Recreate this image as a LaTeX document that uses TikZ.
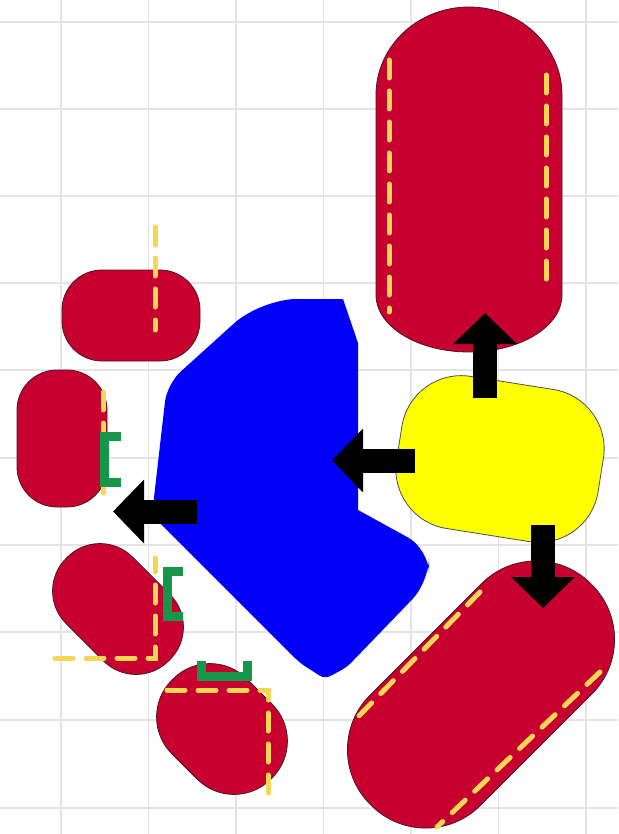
\documentclass[tikz,border=0pt]{standalone}
\usepackage{tikz}
\usetikzlibrary{arrows.meta}
\definecolor{partred}{RGB}{200,0,48}
\definecolor{partedge}{RGB}{70,25,35}
\definecolor{hubyellow}{RGB}{255,255,0}
\definecolor{guideyellow}{RGB}{245,215,85}
\definecolor{clipgreen}{RGB}{22,150,72}
\definecolor{gridgray}{RGB}{228,228,228}
\definecolor{bodyblue}{RGB}{0,0,250}

\begin{document}
\begin{tikzpicture}[x=1pt,y=-1pt,
  part/.style={draw=partedge,fill=partred,line width=0.8pt,inner sep=0pt},
  guide/.style={draw=guideyellow,line width=5pt,line cap=round,dash pattern=on 18pt off 13pt},
  clipmark/.style={draw=clipgreen,line width=9pt},
  push/.style={line width=24pt,-{Triangle[width=62pt,length=31pt]}}]
  \fill[white] (0,0) rectangle (618,834);
  \useasboundingbox (0,0) rectangle (618,834);
  \foreach \gx in {61,148.5,236,323.5,411,498.5,586} \draw[gridgray,line width=1.5pt] (\gx,0) -- (\gx,834);
  \foreach \gy in {22,109,196,283,370,458,545,632,720,808} \draw[gridgray,line width=1.5pt] (0,\gy) -- (618,\gy);

  \fill[bodyblue] (343,299) -- (358,343) -- (358,510)
    [rounded corners=24pt] -- (429,549) -- (429,582) [rounded corners=6pt] -- (347,667) -- (325,679) -- (300,663)
    -- (152,515) [rounded corners=18pt] -- (167,384) [rounded corners=36pt] -- (261,299) [sharp corners] -- cycle;

  \filldraw[part] (376,295) -- (376,95) arc[start angle=180,end angle=360,x radius=93,y radius=88]
    -- (562,295) arc[start angle=0,end angle=180,x radius=93,y radius=57] -- cycle;
  \node[part,minimum width=138pt,minimum height=91pt,rounded corners=40pt] (tl) at (131,315.5) {};
  \node[part,minimum width=90pt,minimum height=137pt,rounded corners=40pt] (ml) at (62,438.5) {};
  \node[part,minimum width=145pt,minimum height=94pt,rounded corners=46pt,rotate=-45] (ca) at (118,609) {};
  \node[part,minimum width=140pt,minimum height=106pt,rounded corners=52pt,rotate=-45] (cb) at (222,729) {};
  \node[part,minimum width=312pt,minimum height=156pt,rounded corners=77pt,rotate=45] (big) at (481,694.5) {};
  \node[draw=black!70,fill=hubyellow,line width=0.8pt,inner sep=0pt,minimum width=204pt,minimum height=154pt,rounded corners=60pt,rotate=-9] (hub) at (500,459) {};

  \draw[guide] (389,60) -- (389,312);
  \draw[guide] (546,75) -- (546,282);
  \draw[guide] (155,227) -- (155,330);
  \draw[guide] (103,392) -- (103,493);
  \draw[guide] (55,658) -- (155,658) -- (155,558);
  \draw[guide] (167,690) -- (268,690) -- (268,795);
  \draw[guide] (480,592) -- (352,723);
  \draw[guide] (600,672) -- (437,827);

  \draw[clipmark] (121,436) -- (104,436) -- (104,482) -- (121,482);
  \draw[clipmark] (183,571) -- (167,571) -- (167,616) -- (183,616);
  \draw[clipmark] (201,661) -- (201,676) -- (247,676) -- (247,661);

  \coordinate (up0) at (485,398);   \coordinate (up1) at (485,313);
  \coordinate (lf0) at (415,460.5); \coordinate (lf1) at (332,460.5);
  \coordinate (dn0) at (543,525);   \coordinate (dn1) at (543,608);
  \coordinate (bl0) at (197,511.5); \coordinate (bl1) at (113,511.5);
  \draw[push] (up0) -- (up1);
  \draw[push] (lf0) -- (lf1);
  \draw[push] (dn0) -- (dn1);
  \draw[push] (bl0) -- (bl1);
\end{tikzpicture}
\end{document}
